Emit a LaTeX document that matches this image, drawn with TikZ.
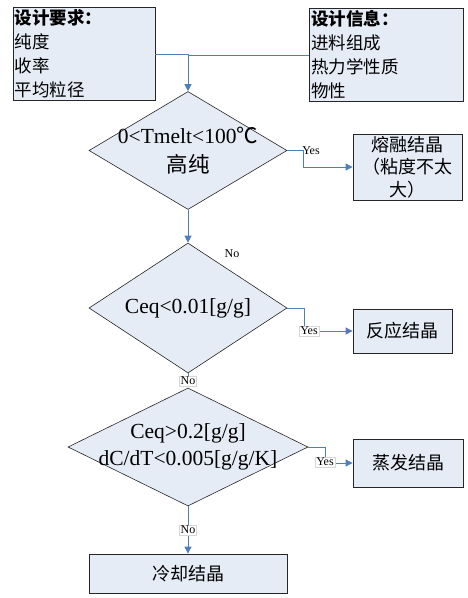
\documentclass[tikz,border=0pt]{standalone}
\usepackage{fontspec}
\setmainfont{Liberation Serif}
\newfontfamily\cjk{Noto Sans CJK SC}
\usetikzlibrary{shapes.geometric,arrows.meta}
\definecolor{boxfill}{RGB}{230,236,246}
\definecolor{conn}{RGB}{79,126,190}
\definecolor{lblborder}{RGB}{215,215,215}
\tikzset{
  box/.style={draw=black!85,line width=0.8pt,fill=boxfill,inner sep=2pt},
  infobox/.style={box,align=left,text width=138pt,font=\cjk\fontsize{17.5}{24}\selectfont},
  resbox/.style={box,align=center,font=\cjk\fontsize{18}{22.5}\selectfont},
  dia/.style={diamond,draw=black!85,line width=0.6pt,fill=boxfill,inner sep=0pt},
  dtext/.style={align=center,font=\fontsize{21.5}{28.5}\selectfont},
  arr/.style={draw=conn,line width=0.9pt,-{Triangle[length=7pt,width=7pt]}},
  ln/.style={draw=conn,line width=0.9pt},
  lbl/.style={font=\fontsize{12}{13}\selectfont,inner sep=1pt},
  lbox/.style={lbl,draw=lblborder,fill=white,line width=0.4pt}
}
\begin{document}
\begin{tikzpicture}[x=1pt,y=-1pt]
\useasboundingbox (0,0) rectangle (467,598);
% top boxes
\node[infobox,minimum width=142pt,minimum height=92pt] (req) at (84,54)
  {{\bfseries 设计要求：}\\纯度\\收率\\平均粒径};
\node[infobox,text width=150pt,minimum width=154pt,minimum height=92pt] (info) at (386,55)
  {{\bfseries 设计信息：}\\进料组成\\热力学性质\\物性};
% diamonds
\node[dia,aspect=1.678,minimum width=198pt,minimum height=118pt] (d1) at (188,150.5) {};
\node[dtext] (t1) at (d1) {0<Tmelt<100{\cjk ℃}\\{\cjk 高纯}};
\node[dia,aspect=1.52,minimum width=198pt,minimum height=130pt] (d2) at (188,308) {};
\node[dtext] (t2) at (d2) {Ceq<0.01[g/g]};
\node[dia,aspect=2.03,minimum width=240pt,minimum height=118pt] (d3) at (188,447) {};
\node[dtext,font=\fontsize{21.5}{27}\selectfont] (t3) at (d3) {Ceq>0.2[g/g]\\dC/dT<0.005[g/g/K]};
% result boxes
\node[resbox,minimum width=109pt,minimum height=66pt,text width=100pt] (melt) at (407.5,167)
  {熔融结晶\\（粘度不太\\大）};
\node[resbox,minimum width=99pt,minimum height=44pt] (react) at (402.5,331) {反应结晶};
\node[resbox,minimum width=110pt,minimum height=48pt] (evap) at (408,463) {蒸发结晶};
\node[resbox,minimum width=198pt,minimum height=39pt] (cool) at (188,573.5) {冷却结晶};
% top connectors
\coordinate (j) at (d1.north |- req.east);
\draw[ln] (info.west) -- (info.west -| j);
\draw[arr] (req.east) -- (j) -- (d1.north);
% yes branches
\coordinate (k1) at (303,150.5);
\draw[arr] (d1.east) -- (k1) |- (melt.west);
\node[lbl] (y1) at (311,151) {Yes};
\coordinate (k2) at (304,308);
\draw[arr] (d2.east) -- (k2) |- (react.west);
\node[lbox] (y2) at (309,331) {Yes};
\coordinate (k3) at (325,447);
\draw[arr] (d3.east) -- (k3) |- (evap.west);
\node[lbox] (y3) at (325,462) {Yes};
% no branches
\draw[arr] (d1.south) -- (d2.north);
\node[lbl] (n1) at (232,254) {No};
\draw[arr] (d2.south) -- (d3.north);
\node[lbox] (n2) at (188,381) {No};
\draw[arr] (d3.south) -- (cool.north);
\node[lbox] (n3) at (188,530) {No};
\end{tikzpicture}
\end{document}
